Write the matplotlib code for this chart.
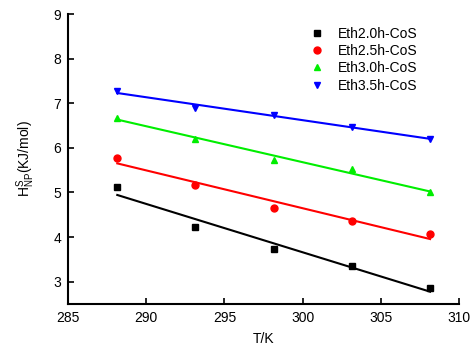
import matplotlib
matplotlib.use("Agg")
import matplotlib.pyplot as plt
import numpy as np

plt.rcParams['font.family'] = ['Liberation Sans', 'DejaVu Sans']
plt.rcParams['mathtext.fontset'] = 'custom'
plt.rcParams['mathtext.rm'] = 'Liberation Sans'

T = [288.15, 293.15, 298.15, 303.15, 308.15]
labels = ["Eth2.0h-CoS", "Eth2.5h-CoS", "Eth3.0h-CoS", "Eth3.5h-CoS"]
eth20 = [5.13, 4.23, 3.73, 3.35, 2.86]
eth25 = [5.78, 5.16, 4.66, 4.36, 4.06]
eth30 = [6.68, 6.20, 5.73, 5.53, 5.00]
eth35 = [7.28, 6.89, 6.74, 6.46, 6.21]
xticks = [285, 290, 295, 300, 305, 310]
yticks = [3, 4, 5, 6, 7, 8, 9]

series = [eth20, eth25, eth30, eth35]
colors = ['#000000', '#ff0000', '#00ee00', '#0000ff']
markers = ['s', 'o', '^', 'v']

fig = plt.figure(figsize=(4.70, 3.46), dpi=100)
ax = fig.add_axes([0.1447, 0.1214, 0.832, 0.838])

x = np.array(T)
for ys, c, m, lab in zip(series, colors, markers, labels):
    ax.plot(x, ys, linestyle='none', marker=m, color=c, ms=5, label=lab)
    k, b = np.polyfit(x, ys, 1)
    ax.plot(x, k * x + b, color=c, lw=1.5)

ax.set_xlim(285, 310)
ax.set_ylim(2.5, 9)
ax.set_xticks(xticks)
ax.set_yticks(yticks)
for s in ['top', 'right']:
    ax.spines[s].set_visible(False)
for s in ['left', 'bottom']:
    ax.spines[s].set_linewidth(1.5)
ax.tick_params(direction='in', length=4, width=1.2, labelsize=10, pad=5)
ax.set_xlabel('T/K', fontsize=10, labelpad=5)
ax.set_ylabel(r'H$^{\mathregular{S}}_{\mathregular{NP}}$(KJ/mol)', fontsize=10, labelpad=12)

ax.legend(loc='upper right', bbox_to_anchor=(0.925, 1.0), frameon=False, fontsize=10,
          handlelength=1.0, handletextpad=1.0, labelspacing=0.24)

fig.savefig('out.png', dpi=100)
